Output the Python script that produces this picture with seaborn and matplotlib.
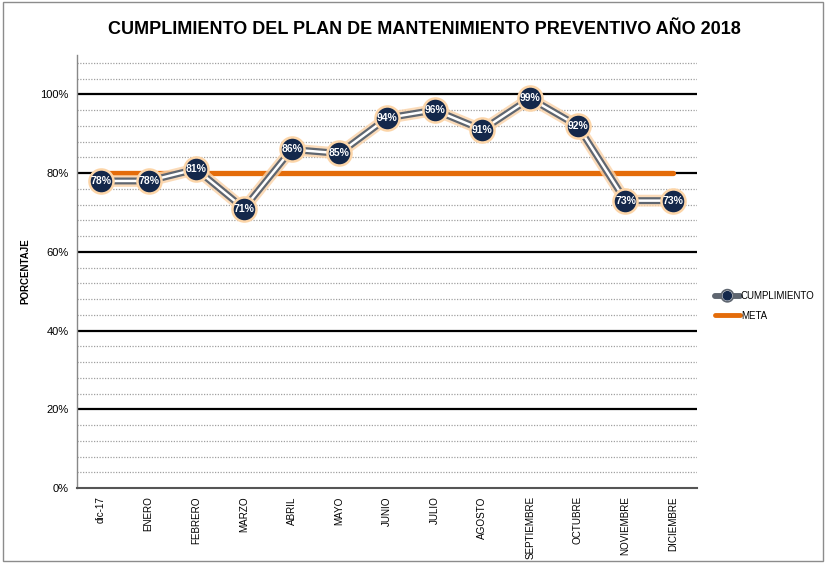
import matplotlib
matplotlib.use("Agg")
import matplotlib.pyplot as plt
import matplotlib.patheffects as pe
from matplotlib.patches import Rectangle
from matplotlib.lines import Line2D
import seaborn as sns
import pandas as pd

meses = ["dic-17", "ENERO", "FEBRERO", "MARZO", "ABRIL", "MAYO", "JUNIO",
         "JULIO", "AGOSTO", "SEPTIEMBRE", "OCTUBRE", "NOVIEMBRE", "DICIEMBRE"]
cumplimiento = [78, 78, 81, 71, 86, 85, 94, 96, 91, 99, 92, 73, 73]
meta = [80] * len(meses)
y_ticks = [0, 20, 40, 60, 80, 100]

sns.set_theme(style="white")
plt.rcParams["font.family"] = ["Liberation Sans", "DejaVu Sans"]
plt.rcParams["text.color"] = "black"
plt.rcParams["xtick.color"] = "black"
plt.rcParams["ytick.color"] = "black"
plt.rcParams["axes.labelcolor"] = "black"

df = pd.DataFrame({"mes": meses,
                   "CUMPLIMIENTO": [v / 100 for v in cumplimiento],
                   "META": [v / 100 for v in meta]})

fig = plt.figure(figsize=(8.29, 5.64), dpi=100)
ax = fig.add_axes([77 / 829, 1 - 488 / 564, 620 / 829, 433 / 564])

# grid: solid black every 20 %, dotted grey every 4 %
for v in [i / 100 for i in range(4, 112, 4)]:
    if round(v * 100) % 20 == 0:
        ax.axhline(v, color="black", lw=1.6, zorder=1)
    else:
        ax.axhline(v, color="#a0a0a0", lw=0.9, ls=(0, (1, 1.2)), zorder=1)

# target line
sns.lineplot(data=df, x="mes", y="META", ax=ax, color="#e46c0a", lw=3.8,
             sort=False, zorder=3, legend=False)

# compliance line: glow, dark outline, white core
sns.lineplot(data=df, x="mes", y="CUMPLIMIENTO", ax=ax, sort=False, legend=False,
             color="#fbd3a8", lw=8.5, zorder=4, alpha=0.8)
sns.lineplot(data=df, x="mes", y="CUMPLIMIENTO", ax=ax, sort=False, legend=False,
             color="#5f6670", lw=5.0, zorder=5)
sns.lineplot(data=df, x="mes", y="CUMPLIMIENTO", ax=ax, sort=False, legend=False,
             color="white", lw=1.8, zorder=6)
sns.scatterplot(data=df, x="mes", y="CUMPLIMIENTO", ax=ax, s=300, color="#14284b",
                edgecolor="#fcd5a8", linewidth=1.8, zorder=7, legend=False)

for i, v in enumerate(cumplimiento):
    ax.text(i, v / 100, f"{v}%", ha="center", va="center", color="white",
            fontsize=7.5, fontweight="bold", zorder=8)

ax.set_xlim(-0.5, len(meses) - 0.5)
ax.set_ylim(0, 1.1)
ax.set_yticks([t / 100 for t in y_ticks])
ax.set_yticklabels([f"{t}%" for t in y_ticks], fontsize=8)
ax.set_xticks(range(len(meses)))
ax.set_xticklabels(meses, rotation=90, fontsize=7.1)
ax.tick_params(axis="x", length=2, color="#888888", pad=4)
ax.tick_params(axis="y", length=0, pad=6)
ax.set_xlabel("")
ax.set_ylabel("PORCENTAJE", fontsize=7, fontweight="bold")
ax.yaxis.set_label_coords((30 - 77) / 620, 0.5)

for s in ["top", "right"]:
    ax.spines[s].set_visible(False)
ax.spines["left"].set_color("#888888")
ax.spines["left"].set_linewidth(1.0)
ax.spines["bottom"].set_color("#555555")
ax.spines["bottom"].set_linewidth(1.5)

fig.suptitle("CUMPLIMIENTO DEL PLAN DE MANTENIMIENTO PREVENTIVO AÑO 2018",
             x=424 / 829, y=1 - 30 / 564, va="center", fontsize=13,
             fontweight="bold", color="black")

h1 = Line2D([], [], color="#5f6670", lw=4, marker="o", markersize=6,
            markerfacecolor="#14284b", markeredgecolor="#14284b",
            path_effects=[pe.Stroke(linewidth=4, foreground="#5f6670"),
                          pe.Stroke(linewidth=1.5, foreground="white"), pe.Normal()])
h2 = Line2D([], [], color="#e46c0a", lw=3.5)
fig.legend([h1, h2], ["CUMPLIMIENTO", "META"], loc="center left",
           bbox_to_anchor=(706 / 829, 1 - 306 / 564), frameon=False,
           fontsize=7, handlelength=2.6, handletextpad=0.1, labelspacing=1.0)

fig.patches.append(Rectangle((3 / 829, 3 / 564), 820 / 829, 559 / 564,
                             transform=fig.transFigure, fill=False,
                             edgecolor="#8c8c8c", lw=1.0))

fig.savefig("out.png", dpi=100)
